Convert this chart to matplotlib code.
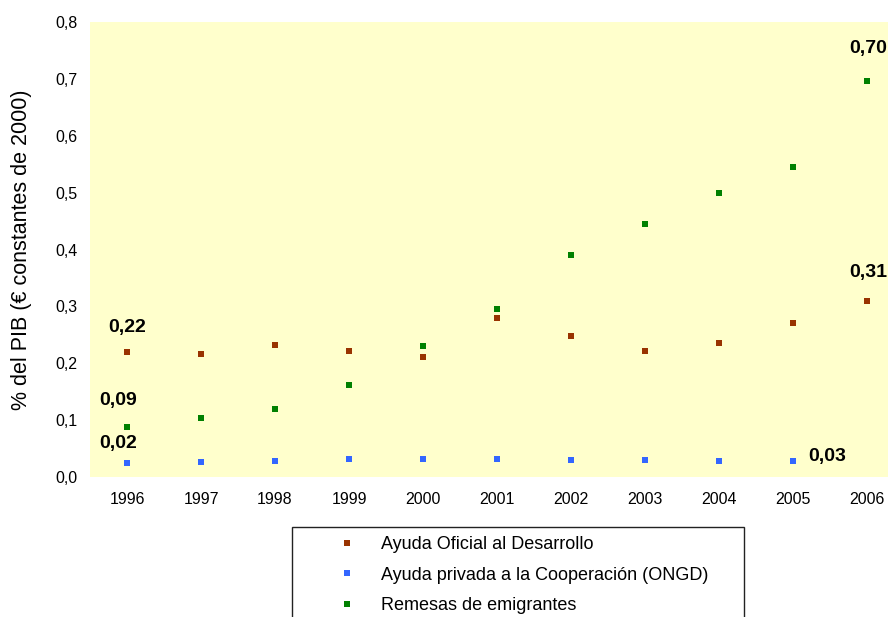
import matplotlib
matplotlib.use("Agg")
import matplotlib.pyplot as plt
from matplotlib.patches import Rectangle
from matplotlib.ticker import FuncFormatter

plt.rcParams['font.family'] = ['Liberation Sans', 'DejaVu Sans']

years = ["1996", "1997", "1998", "1999", "2000", "2001", "2002", "2003", "2004", "2005", "2006"]
aod = [0.219, 0.216, 0.232, 0.222, 0.211, 0.280, 0.248, 0.222, 0.235, 0.270, 0.309]
ongd = [0.024, 0.026, 0.029, 0.031, 0.031, 0.031, 0.030, 0.030, 0.029, 0.029]
remesas = [0.088, 0.104, 0.120, 0.162, 0.230, 0.296, 0.390, 0.445, 0.499, 0.545, 0.696]

names = ["Ayuda Oficial al Desarrollo", "Ayuda privada a la Cooperación (ONGD)", "Remesas de emigrantes"]
colors = ["#993300", "#3366FF", "#008000"]


def fmt(v):
    return f"{v:.2f}".replace(".", ",")


fig = plt.figure(figsize=(8.88, 6.17), dpi=100)
ax = fig.add_axes([90 / 888, 1 - 477 / 617, 814 / 888, 455 / 617])
ax.set_facecolor("#FFFFCC")

x = list(range(len(years)))
series = [aod, ongd, remesas]
for vals, name, c in zip(series, names, colors):
    ax.plot(x[:len(vals)], vals, linestyle="none", marker="s", markersize=4,
            markeredgewidth=0, color=c, label=name)

ax.set_xlim(-0.5, len(years) - 0.5)
ax.set_ylim(0, 0.8)
ax.set_xticks(x)
ax.set_xticklabels(years)
ax.set_yticks([i / 10 for i in range(9)])
ax.yaxis.set_major_formatter(FuncFormatter(lambda v, p: f"{v:.1f}".replace(".", ",")))
ax.tick_params(length=0, labelsize=11.5)
ax.tick_params(axis="y", pad=9)
ax.tick_params(axis="x", pad=11)
for s in ax.spines.values():
    s.set_visible(False)

ax.set_ylabel("% del PIB (€ constantes de 2000)", fontsize=15.5)
ax.yaxis.set_label_coords(-0.071, 0.5)

# data labels
lab = dict(fontsize=14, fontweight="bold", ha="center", va="center",
           textcoords="offset pixels")
ax.annotate(fmt(aod[0]), (0, aod[0]), xytext=(0, 25), **lab)
ax.annotate(fmt(remesas[0]), (0, remesas[0]), xytext=(-9, 26), **lab)
ax.annotate(fmt(ongd[0]), (0, ongd[0]), xytext=(-9, 20), **lab)
ax.annotate(fmt(remesas[10]), (10, remesas[10]), xytext=(1, 33), **lab)
ax.annotate(fmt(aod[10]), (10, aod[10]), xytext=(1, 29), **lab)
ax.annotate(fmt(ongd[9]), (9, ongd[9]), xytext=(34, 4), **lab)

# legend box (cut off at the bottom like the original)
fig.patches.append(Rectangle((292 / 888, -0.1), 452 / 888, 0.1 + 1 - 527 / 617,
                             transform=fig.transFigure, fill=False,
                             edgecolor="#222222", linewidth=1.0))
handles, labels = ax.get_legend_handles_labels()
fig.legend(handles, labels, loc="upper left", frameon=False,
           bbox_to_anchor=(329 / 888, 1 - 527 / 617), borderpad=0,
           handlelength=1.0, handletextpad=1.38, labelspacing=0.76,
           fontsize=13, markerscale=1.0)

fig.savefig("out.png", dpi=100)
